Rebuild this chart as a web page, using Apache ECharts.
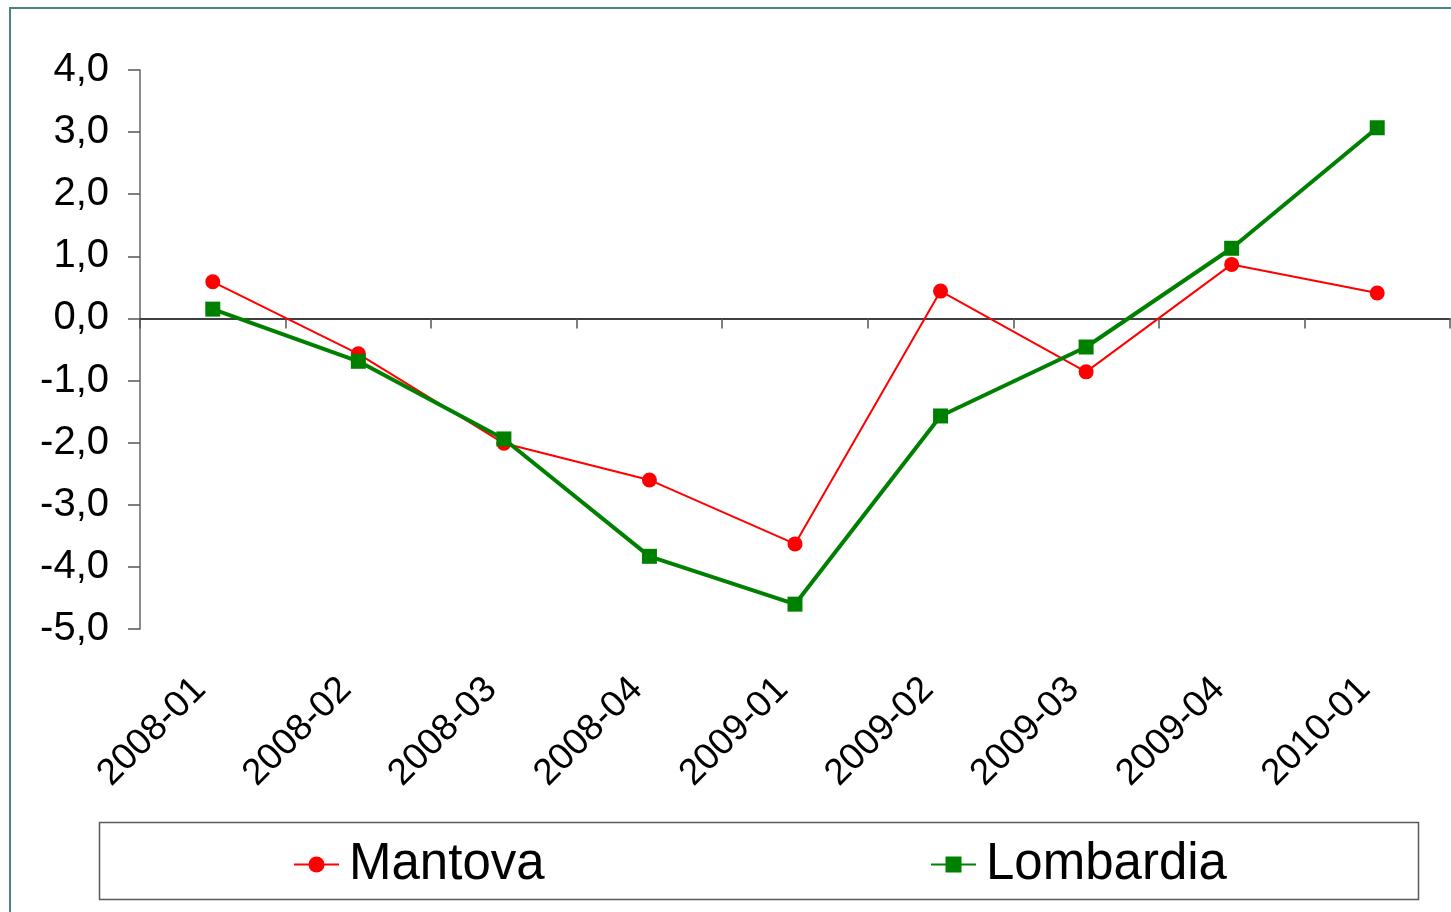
<!DOCTYPE html>
<html>
<head>
<meta charset="utf-8">
<script src="https://cdn.jsdelivr.net/npm/echarts@6/dist/echarts.min.js"></script>
<style>
html,body{margin:0;padding:0;background:#fff;}
#c{width:1451px;height:912px;}
</style>
</head>
<body>
<div id="c"></div>
<script>
const categories = ['2008-01','2008-02','2008-03','2008-04','2009-01','2009-02','2009-03','2009-04','2010-01'];
const mantova = [0.59, -0.57, -2.01, -2.60, -3.63, 0.44, -0.86, 0.87, 0.41];
const lombardia = [0.15, -0.69, -1.94, -3.83, -4.60, -1.57, -0.46, 1.13, 3.07];
const yMin = -5, yMax = 4, yStep = 1;

const FONT = '"Liberation Sans", Arial, sans-serif';
const chart = echarts.init(document.getElementById('c'), null, {renderer: 'canvas'});
chart.setOption({
  animation: false,
  backgroundColor: '#fff',
  graphic: [
    {type: 'rect', shape: {x: 10, y: 8, width: 1480, height: 940}, style: {fill: 'none', stroke: '#4f8282', lineWidth: 2}, z: 0},
    {type: 'rect', shape: {x: 99.5, y: 822.5, width: 1319, height: 77}, style: {fill: 'none', stroke: '#5a5a5a', lineWidth: 1.5}, z: 0}
  ],
  grid: {left: 140, top: 70, width: 1310, height: 559, containLabel: false},
  legend: [
    {data: ['Mantova'], left: 293, top: 839, padding: 0, itemWidth: 45, itemHeight: 20,
     textStyle: {fontFamily: FONT, fontSize: 51, color: '#000', padding: [0,0,0,5]}},
    {data: ['Lombardia'], left: 930, top: 839, padding: 0, itemWidth: 45, itemHeight: 20,
     textStyle: {fontFamily: FONT, fontSize: 51, color: '#000', padding: [0,0,0,5]}}
  ],
  xAxis: [
    {type: 'category', data: categories, boundaryGap: true, position: 'bottom',
     axisLine: {show: true, onZero: true, lineStyle: {color: '#000', width: 1.5}},
     axisTick: {show: true, length: 10, lineStyle: {color: '#555', width: 1.5}},
     axisLabel: {show: false}, splitLine: {show: false}},
    {type: 'category', data: categories, boundaryGap: true, position: 'bottom', gridIndex: 0,
     axisLine: {show: false, onZero: false}, axisTick: {show: false},
     axisLabel: {show: true, rotate: 45, margin: 42, fontFamily: FONT, fontSize: 37, color: '#000', padding: [0, 18, 0, 0]},
     splitLine: {show: false}}
  ],
  yAxis: {
    type: 'value', min: yMin, max: yMax, interval: yStep,
    axisLine: {show: true, lineStyle: {color: '#666', width: 1.5}},
    axisTick: {show: true, length: 12, inside: false, lineStyle: {color: '#555', width: 1.5}},
    axisLabel: {margin: 31, fontFamily: FONT, fontSize: 40, color: '#000',
      formatter: v => v.toFixed(1).replace('.', ',')},
    splitLine: {show: false}
  },
  series: [
    {name: 'Mantova', type: 'line', data: mantova, xAxisIndex: 0,
     symbol: 'circle', symbolSize: 15, color: '#ff0000',
     lineStyle: {color: '#ff0000', width: 2}, itemStyle: {color: '#ff0000'}, z: 3},
    {name: 'Lombardia', type: 'line', data: lombardia, xAxisIndex: 0,
     symbol: 'rect', symbolSize: 15, color: '#008000',
     lineStyle: {color: '#008000', width: 4}, itemStyle: {color: '#008000'}, z: 4}
  ]
});
</script>
</body>
</html>
